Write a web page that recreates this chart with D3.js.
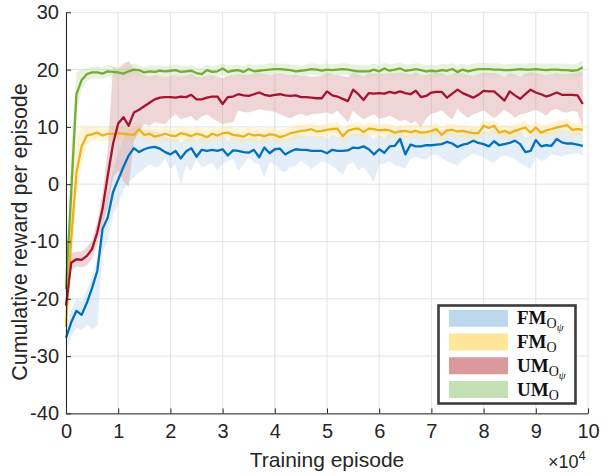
<!DOCTYPE html>
<html>
<head>
<meta charset="utf-8">
<script src="https://cdn.jsdelivr.net/npm/d3@7"></script>
<style>
  body { margin: 0; background: #fff; }
  svg { display: block; }
</style>
</head>
<body>
<div id="chart"></div>
<script>
// Data, one point every 1000 episodes
const episodes = d3.range(0, 100000, 1000);

const xTicks = [0, 1, 2, 3, 4, 5, 6, 7, 8, 9, 10];
const yTicks = [-40, -30, -20, -10, 0, 10, 20, 30];

// FM_O_psi (blue)
const fmOpsiMean = [
  -26.8, -24.1, -22.1, -22.8, -20.7, -18.1, -15.1, -7.8, -5.8, -1.4,
  0.8, 3.0, 5.0, 6.3, 5.6, 6.1, 6.4, 6.5, 6.2, 5.6,
  5.2, 5.8, 4.5, 5.7, 6.3, 4.8, 6.0, 5.8, 6.0, 5.8,
  6.1, 5.0, 5.9, 5.8, 5.6, 5.5, 6.0, 4.7, 6.4, 5.4,
  6.1, 6.2, 5.2, 5.7, 6.1, 6.0, 6.0, 5.8, 5.8, 5.8,
  5.4, 6.0, 5.8, 5.8, 5.9, 6.4, 6.3, 6.6, 6.1, 5.2,
  6.1, 5.5, 6.6, 6.7, 7.9, 5.2, 6.9, 6.6, 6.6, 6.8,
  6.8, 6.9, 7.0, 7.4, 7.1, 6.5, 6.9, 7.1, 7.6, 7.2,
  7.0, 6.6, 7.5, 6.8, 7.0, 7.2, 7.6, 7.0, 5.6, 5.8,
  7.7, 6.6, 6.8, 6.7, 7.9, 7.3, 7.1, 7.1, 6.9, 6.7
];
const fmOpsiUpper = [
  -25.0, -22.0, -20.0, -20.5, -18.5, -16.0, -13.0, -4.5, -2.0, 2.5,
  5.5, 8.0, 9.5, 9.8, 9.5, 9.6, 9.5, 9.3, 9.0, 8.3,
  7.8, 8.2, 7.3, 8.1, 8.8, 7.5, 8.4, 8.2, 8.5, 8.3,
  8.6, 7.6, 8.4, 8.3, 8.0, 8.0, 8.5, 7.6, 9.0, 8.0,
  8.6, 8.8, 7.8, 8.3, 8.7, 8.6, 8.5, 8.4, 8.3, 8.4,
  8.0, 8.6, 8.3, 8.3, 8.4, 8.9, 8.8, 9.1, 8.6, 7.9,
  8.6, 8.1, 9.1, 9.2, 10.2, 8.0, 9.3, 9.0, 9.0, 9.2,
  9.2, 9.3, 9.3, 9.7, 9.4, 8.9, 9.3, 9.4, 9.8, 9.5,
  9.3, 9.0, 9.8, 9.2, 9.3, 9.5, 9.8, 9.3, 8.2, 8.5,
  9.9, 9.0, 9.2, 9.1, 10.0, 9.5, 9.4, 9.4, 9.2, 9.0
];
const fmOpsiLower = [
  -29.5, -26.5, -25.0, -25.5, -24.5, -25.3, -24.7, -12.0, -9.6, -5.5,
  -3.5, -1.0, 0.3, 1.2, 2.1, 2.7, 3.5, 3.0, 3.2, 4.5,
  2.6, 3.5, 0.0, 3.2, 2.3, 4.4, 2.9, 3.3, 3.8, 2.3,
  3.5, 4.1, 4.4, 2.3, 3.5, 4.7, 3.8, 3.5, 1.2, 3.8,
  3.5, 2.5, 2.1, 3.0, 3.2, 4.1, 3.5, 2.6, 3.3, 4.1,
  3.8, 3.1, 2.5, 1.6, 3.5, 3.8, 2.5, 3.0, 1.8, 0.4,
  3.5, 3.6, 4.0, 3.3, 3.0, 2.8, 4.5, 4.8, 4.4, 4.3,
  5.0, 5.2, 4.6, 4.0, 3.6, 3.2, 4.3, 4.8, 5.4, 5.0,
  4.8, 4.0, 3.8, 4.6, 5.0, 4.7, 4.4, 3.6, 3.2, 2.6,
  4.8, 4.0, 4.4, 5.2, 5.0, 4.8, 5.2, 5.3, 5.4, 5.1
];

// FM_O (yellow)
const fmOMean = [
  -24.9, -9.5, 2.0, 6.6, 8.5, 8.7, 9.0, 8.5, 8.8, 8.8,
  8.9, 8.8, 8.7, 8.6, 9.6, 8.6, 8.8, 8.3, 8.5, 8.8,
  8.5, 8.4, 8.9, 8.7, 8.4, 8.8, 8.6, 8.2, 8.8, 8.5,
  8.9, 9.0, 8.6, 8.5, 8.3, 8.8, 8.5, 8.6, 8.4, 8.7,
  8.6, 8.2, 8.5, 8.9, 9.1, 9.3, 9.4, 9.6, 9.2, 9.3,
  9.5, 9.6, 9.7, 8.4, 9.3, 9.6, 9.7, 9.1, 9.7, 9.6,
  9.4, 9.5, 9.4, 9.0, 9.2, 9.3, 9.1, 9.3, 9.0, 9.1,
  9.3, 9.6, 8.6, 9.4, 9.5, 9.2, 9.3, 9.1, 8.9, 8.9,
  10.2, 9.8, 10.2, 9.0, 9.3, 8.9, 9.3, 9.6, 9.9, 9.0,
  9.9, 9.0, 9.4, 9.6, 9.9, 10.1, 10.3, 9.5, 9.6, 9.5
];
const fmOUpper = [
  -23.3, -3.5, 8.0, 10.3, 10.2, 10.0, 10.1, 9.8, 9.9, 9.9,
  10.0, 9.9, 9.8, 9.7, 10.6, 9.8, 9.9, 9.6, 9.7, 10.0,
  9.7, 9.6, 10.0, 9.9, 9.6, 10.0, 9.8, 9.5, 10.0, 9.7,
  10.0, 10.2, 9.8, 9.7, 9.6, 10.0, 9.7, 9.8, 9.6, 9.9,
  9.8, 9.5, 9.7, 10.0, 10.3, 10.4, 10.5, 10.7, 10.3, 10.4,
  10.6, 10.7, 10.8, 9.7, 10.4, 10.7, 10.8, 10.3, 10.8, 10.7,
  10.5, 10.6, 10.5, 10.2, 10.3, 10.4, 10.3, 10.4, 10.2, 10.3,
  10.4, 10.7, 9.9, 10.5, 10.6, 10.3, 10.4, 10.2, 10.1, 10.1,
  11.2, 10.9, 11.2, 10.2, 10.4, 10.1, 10.4, 10.7, 11.0, 10.2,
  11.0, 10.2, 10.5, 10.7, 11.0, 11.2, 11.4, 10.6, 10.7, 10.6
];
const fmOLower = [
  -26.2, -14.0, -3.0, 3.5, 6.8, 7.5, 7.8, 7.3, 7.6, 7.6,
  7.7, 7.6, 7.5, 7.4, 8.4, 7.4, 7.6, 7.1, 7.3, 7.6,
  7.3, 7.2, 7.7, 7.5, 7.2, 7.6, 7.4, 7.0, 7.6, 7.3,
  7.7, 7.8, 7.4, 7.3, 7.1, 7.6, 7.3, 7.4, 7.2, 7.5,
  7.4, 7.0, 7.3, 7.7, 7.9, 8.1, 8.2, 8.4, 8.0, 8.1,
  8.3, 8.4, 8.5, 7.1, 8.1, 8.4, 8.5, 7.9, 8.5, 8.4,
  8.2, 8.3, 8.2, 7.8, 8.0, 8.1, 7.9, 8.1, 7.8, 7.9,
  8.1, 8.4, 7.4, 8.2, 8.3, 8.0, 8.1, 7.9, 7.7, 7.7,
  9.0, 8.6, 9.0, 7.8, 8.1, 7.7, 8.1, 8.4, 8.7, 7.8,
  8.7, 7.8, 8.2, 8.4, 8.7, 8.9, 9.1, 8.3, 8.4, 8.3
];

// UM_O_psi (red)
const umOpsiMean = [
  -21.2, -13.7, -13.1, -13.2, -12.5, -11.3, -8.4, -4.3, 1.5, 7.0,
  10.6, 11.7, 10.2, 12.5, 13.0, 13.6, 14.2, 14.8, 15.1, 15.2,
  15.2, 15.1, 15.3, 15.2, 15.6, 14.8, 14.8, 15.1, 15.3, 15.3,
  14.0, 15.2, 15.3, 15.7, 15.5, 15.4, 15.7, 16.0, 15.6, 15.4,
  15.6, 15.7, 15.5, 15.4, 15.5, 15.2, 15.2, 15.1, 15.0, 15.0,
  16.2, 15.5, 15.3, 14.9, 14.5, 16.5, 15.7, 14.7, 15.9, 15.8,
  15.9, 15.8, 16.1, 15.9, 16.2, 15.9, 15.7, 16.3, 15.2, 15.4,
  16.0, 16.1, 16.1, 15.1, 15.8, 16.5, 15.9, 15.5, 15.1, 15.6,
  16.3, 16.2, 16.2, 15.4, 14.6, 16.2, 15.5, 14.9, 15.7, 16.5,
  16.0, 15.7, 15.3, 15.6, 16.0, 15.6, 15.6, 15.6, 15.5, 14.0
];
const umOpsiUpper = [
  -20.0, -12.0, -11.8, -11.8, -11.0, -9.8, -6.5, -1.5, 6.0, 20.5,
  20.0, 21.0, 21.5, 20.2, 19.5, 19.0, 18.8, 19.0, 18.9, 18.7,
  18.9, 19.0, 18.8, 18.9, 19.2, 18.7, 18.6, 18.9, 19.0, 18.8,
  18.5, 18.9, 19.0, 19.2, 19.1, 19.0, 19.3, 19.4, 19.2, 19.0,
  19.2, 19.3, 19.1, 19.0, 19.1, 18.9, 18.9, 18.8, 18.8, 18.9,
  19.5, 19.2, 19.0, 18.9, 18.7, 19.5, 19.2, 18.8, 19.3, 19.3,
  19.3, 19.2, 19.4, 19.3, 19.5, 19.3, 19.1, 19.5, 19.0, 19.0,
  19.3, 19.4, 19.4, 18.9, 19.2, 19.6, 19.3, 19.1, 18.9, 19.2,
  19.5, 19.4, 19.4, 19.1, 18.7, 19.4, 19.1, 18.8, 19.3, 19.6,
  19.4, 19.2, 19.0, 19.2, 19.4, 19.2, 19.2, 19.3, 19.5, 19.8
];
const umOpsiLower = [
  -22.5, -15.0, -14.3, -14.5, -14.2, -13.0, -10.5, -7.0, -4.0, 1.0,
  2.5, 0.5, -0.5, 7.5, 9.3, 10.5, 10.2, 10.8, 10.6, 10.5,
  11.5, 12.2, 11.3, 11.6, 11.9, 11.0, 11.8, 12.2, 11.5, 11.0,
  10.5, 10.7, 10.8, 12.8, 12.6, 12.5, 12.8, 13.1, 12.9, 12.8,
  12.6, 12.2, 11.8, 11.5, 12.0, 12.3, 11.9, 12.2, 12.3, 12.4,
  12.5, 12.2, 12.8, 11.8, 10.8, 12.8, 12.0, 11.3, 11.8, 12.2,
  11.4, 11.6, 12.0, 11.5, 11.0, 11.3, 10.6, 11.0, 9.9, 11.5,
  12.3, 12.5, 12.9, 12.0, 11.3, 13.2, 12.2, 11.6, 12.2, 12.5,
  12.9, 12.2, 11.5, 12.2, 13.0, 12.4, 11.6, 12.2, 12.3, 12.7,
  13.0, 12.5, 12.0, 12.8, 13.2, 12.6, 12.5, 12.8, 12.6, 9.9
];

// UM_O (green)
const umOMean = [
  -18.3, -1.3, 15.7, 18.2, 19.2, 19.5, 19.5, 19.3, 19.7, 19.6,
  19.5, 19.3, 19.7, 20.0, 19.9, 19.5, 19.7, 19.6, 19.8, 19.7,
  19.8, 19.9, 19.6, 19.7, 19.8, 19.4, 19.2, 19.9, 19.6, 19.7,
  20.2, 19.6, 19.8, 19.9, 19.6, 20.1, 19.7, 19.8, 19.9, 20.0,
  20.1, 20.1, 20.0, 19.9, 19.7, 19.8, 19.9, 20.1, 20.0, 19.8,
  20.0, 19.9, 20.0, 20.1, 20.0, 19.8, 19.7, 19.7, 19.7, 20.0,
  19.7, 20.2, 19.8, 20.0, 20.2, 19.8, 19.9, 20.1, 19.9, 19.7,
  19.8, 19.7, 19.9, 19.8, 20.1, 19.6, 20.0, 19.7, 19.9, 20.1,
  20.1, 20.1, 20.0, 20.0, 19.9, 19.9, 20.0, 20.1, 20.0, 20.0,
  20.1, 20.0, 19.9, 20.0, 20.0, 19.9, 19.9, 19.8, 19.9, 20.4
];
const umOUpper = [
  -16.5, 6.0, 19.5, 20.1, 20.3, 20.5, 20.6, 20.4, 20.8, 20.6,
  20.5, 20.4, 20.9, 21.0, 20.8, 20.4, 20.8, 20.7, 20.7, 20.6,
  20.8, 20.9, 20.7, 20.6, 20.8, 20.3, 20.3, 20.9, 20.6, 20.8,
  21.1, 20.7, 20.8, 20.9, 20.6, 21.1, 20.7, 20.9, 20.9, 21.1,
  21.1, 21.0, 21.0, 20.9, 20.8, 20.7, 20.9, 21.1, 21.0, 20.9,
  21.1, 20.9, 21.0, 21.1, 21.0, 20.9, 20.8, 20.7, 20.8, 21.0,
  20.8, 21.2, 20.9, 21.0, 21.2, 20.9, 20.9, 21.1, 21.0, 20.8,
  20.9, 20.7, 21.0, 20.9, 21.1, 20.7, 21.0, 20.8, 21.0, 21.1,
  21.2, 21.1, 21.0, 21.1, 20.9, 21.0, 21.0, 21.1, 21.0, 21.1,
  21.1, 21.0, 21.0, 21.1, 21.0, 21.0, 21.0, 20.9, 21.1, 21.6
];
const umOLower = [
  -19.6, -7.5, 12.5, 16.5, 18.0, 18.5, 18.5, 18.3, 18.7, 18.6,
  18.5, 18.3, 18.6, 18.9, 18.9, 18.6, 18.7, 18.6, 18.8, 18.7,
  18.8, 18.9, 18.6, 18.7, 18.8, 18.5, 18.2, 18.8, 18.6, 18.7,
  19.1, 18.6, 18.8, 18.9, 18.6, 19.0, 18.7, 18.8, 18.9, 19.0,
  19.0, 19.1, 19.0, 18.9, 18.7, 18.8, 18.9, 19.1, 19.0, 18.8,
  19.0, 18.9, 19.0, 19.0, 19.0, 18.8, 18.7, 18.7, 18.7, 19.0,
  18.7, 19.1, 18.8, 19.0, 19.1, 18.8, 18.9, 19.0, 18.9, 18.7,
  18.8, 18.7, 18.9, 18.8, 19.0, 18.6, 19.0, 18.7, 18.9, 19.0,
  19.0, 19.0, 19.0, 18.9, 18.9, 18.8, 18.9, 19.0, 18.9, 18.9,
  19.0, 18.9, 18.8, 18.9, 18.9, 18.8, 18.8, 18.6, 18.7, 19.0
];

const series = [
  { key: "fmOpsi", base: "FM", sub: "O", subsub: "ψ", mean: fmOpsiMean, upper: fmOpsiUpper, lower: fmOpsiLower, line: "#0072bd", band: "#bdd7ee" },
  { key: "fmO", base: "FM", sub: "O", subsub: "", mean: fmOMean, upper: fmOUpper, lower: fmOLower, line: "#edb120", band: "#ffe699" },
  { key: "umOpsi", base: "UM", sub: "O", subsub: "ψ", mean: umOpsiMean, upper: umOpsiUpper, lower: umOpsiLower, line: "#a2142f", band: "#da9a9d" },
  { key: "umO", base: "UM", sub: "O", subsub: "", mean: umOMean, upper: umOUpper, lower: umOLower, line: "#77ac30", band: "#c5e0b4" }
];

// Layout
const width = 610;
const height = 476;
const plot = { left: 66, right: 588, top: 12.3, bottom: 413.4 };
const tickFont = "'Liberation Sans', Arial, Helvetica, sans-serif";
const textColor = "#262626";

const x = d3.scaleLinear().domain([0, 10]).range([plot.left, plot.right]);
const y = d3.scaleLinear().domain([-40, 30]).range([plot.bottom, plot.top]);

const svg = d3.select("#chart").append("svg")
  .attr("width", width)
  .attr("height", height)
  .style("background", "#fff");

// Grid
const grid = svg.append("g").attr("stroke", "#e3e3e3").attr("stroke-width", 1);
grid.selectAll(".gx").data(xTicks).enter().append("line")
  .attr("x1", (d) => x(d)).attr("x2", (d) => x(d))
  .attr("y1", plot.top).attr("y2", plot.bottom);
grid.selectAll(".gy").data(yTicks).enter().append("line")
  .attr("x1", plot.left).attr("x2", plot.right)
  .attr("y1", (d) => y(d)).attr("y2", (d) => y(d));

// Shaded bands
const area = d3.area()
  .x((d, i) => x(episodes[i] / 1e4))
  .y0((d) => y(d[0]))
  .y1((d) => y(d[1]));

svg.append("g").selectAll("path")
  .data(series)
  .enter()
  .append("path")
  .attr("d", (s) => area(s.lower.map((v, i) => [v, s.upper[i]])))
  .attr("fill", (s) => s.band)
  .attr("fill-opacity", 0.42)
  .attr("stroke", "none");

// Mean lines
const line = d3.line()
  .x((d, i) => x(episodes[i] / 1e4))
  .y((d) => y(d));

svg.append("g").selectAll("path")
  .data(series)
  .enter()
  .append("path")
  .attr("d", (s) => line(s.mean))
  .attr("fill", "none")
  .attr("stroke", (s) => s.line)
  .attr("stroke-width", 2.3)
  .attr("stroke-linejoin", "round");

// Axes
const xAxis = svg.append("g")
  .attr("transform", `translate(0,${plot.bottom})`)
  .call(d3.axisBottom(x).tickValues(xTicks).tickSizeInner(-5).tickSizeOuter(0).tickPadding(10).tickFormat(d3.format("d")));
const yAxis = svg.append("g")
  .attr("transform", `translate(${plot.left},0)`)
  .call(d3.axisLeft(y).tickValues(yTicks).tickSizeInner(-5).tickSizeOuter(0).tickPadding(7).tickFormat((d) => String(d)));

[xAxis, yAxis].forEach((g) => {
  g.select(".domain").attr("stroke", textColor).attr("stroke-width", 1);
  g.selectAll(".tick line").attr("stroke", textColor);
  g.selectAll(".tick text")
    .attr("fill", textColor)
    .style("font-family", tickFont)
    .style("font-size", "20px");
});

// Axis titles
svg.append("text")
  .attr("x", (plot.left + plot.right) / 2)
  .attr("y", 467)
  .attr("text-anchor", "middle")
  .attr("fill", textColor)
  .style("font-family", tickFont)
  .style("font-size", "21px")
  .text("Training episode");

svg.append("text")
  .attr("transform", "translate(27,232) rotate(-90)")
  .attr("text-anchor", "middle")
  .attr("fill", textColor)
  .style("font-family", tickFont)
  .style("font-size", "21.5px")
  .text("Cumulative reward per episode");

const expo = svg.append("text")
  .attr("x", 548)
  .attr("y", 468)
  .attr("fill", textColor)
  .style("font-family", tickFont)
  .style("font-size", "18px");
expo.append("tspan").text("×10");
expo.append("tspan").attr("dy", -8).style("font-size", "13px").text("4");

// Legend
const legend = svg.append("g");
legend.append("rect")
  .attr("x", 438.5).attr("y", 305.5)
  .attr("width", 137).attr("height", 98)
  .attr("fill", "#fff")
  .attr("stroke", "#3c3c3c")
  .attr("stroke-width", 2.6);

const rowY = d3.scalePoint().domain(series.map((s) => s.key)).range([318.3, 389.5]);

const item = legend.selectAll(".item")
  .data(series)
  .enter()
  .append("g")
  .attr("transform", (s) => `translate(0,${rowY(s.key)})`);

item.append("rect")
  .attr("x", 449).attr("y", -8.5)
  .attr("width", 59).attr("height", 17)
  .attr("fill", (s) => s.band);

const label = item.append("text")
  .attr("x", 517)
  .attr("y", 6)
  .attr("fill", "#111")
  .style("font-family", "'Liberation Serif', 'DejaVu Serif', serif");
label.append("tspan").style("font-weight", "bold").style("font-size", "19px").text((s) => s.base);
label.append("tspan").attr("dy", 4).style("font-size", "14px").text((s) => s.sub);
label.append("tspan").attr("dy", 3).style("font-size", "11px").style("font-style", "italic").text((s) => s.subsub);
</script>
</body>
</html>
